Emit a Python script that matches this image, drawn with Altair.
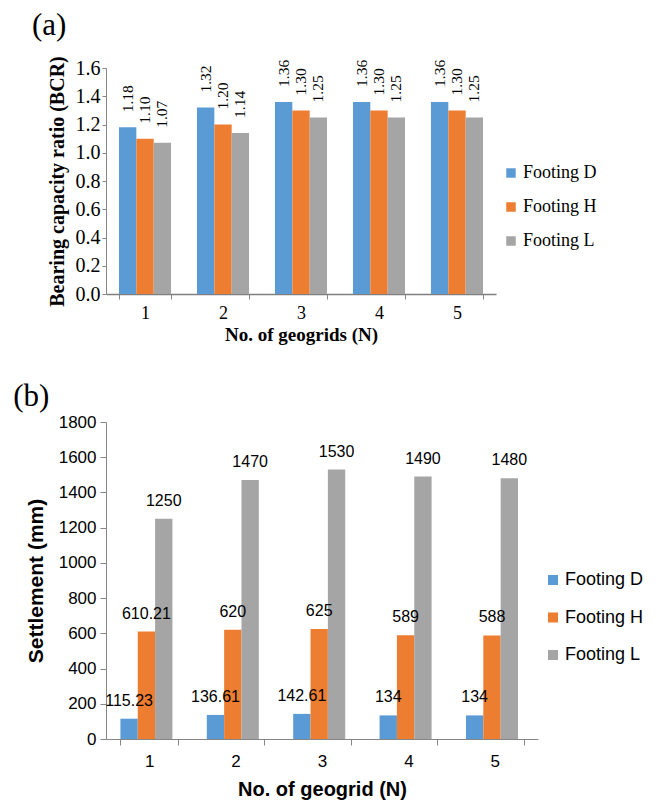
import altair as alt
import pandas as pd

grids = ["1", "2", "3", "4", "5"]
series = ["Footing D", "Footing H", "Footing L"]
colors = ["#5B9BD5", "#ED7D31", "#A5A5A5"]

bcr_d = [1.18, 1.32, 1.36, 1.36, 1.36]
bcr_h = [1.10, 1.20, 1.30, 1.30, 1.30]
bcr_l = [1.07, 1.14, 1.25, 1.25, 1.25]

set_d = [115.23, 136.61, 142.61, 134, 134]
set_h = [610.21, 620, 625, 589, 588]
set_l = [1250, 1470, 1530, 1490, 1480]

bcr_ticks = [0.0, 0.2, 0.4, 0.6, 0.8, 1.0, 1.2, 1.4, 1.6]
set_ticks = [0, 200, 400, 600, 800, 1000, 1200, 1400, 1600, 1800]

SERIF = "Liberation Serif"
SANS = "Liberation Sans"
AXC = "#868686"


def make_df(vals, fmt):
    rows = []
    for s, v in zip(series, vals):
        for g, x in zip(grids, v):
            rows.append({"N": g, "Footing": s, "value": x, "label": fmt(x)})
    return pd.DataFrame(rows)


df_a = make_df([bcr_d, bcr_h, bcr_l], lambda x: f"{x:.2f}")
df_b = make_df([set_d, set_h, set_l], lambda x: (f"{x:g}"))

# ---------------- panel (a) ----------------
base_a = alt.Chart(df_a).encode(
    x=alt.X(
        "N:N", sort=grids,
        scale=alt.Scale(paddingInner=0.333, paddingOuter=0.1667),
        axis=alt.Axis(
            title="No. of geogrids (N)", labelAngle=0, tickBand="extent",
            labelFont=SERIF, labelFontSize=18, labelColor="black",
            titleFont=SERIF, titleFontSize=19, titleFontWeight="bold", titleColor="black",
            domainColor="#7f7f7f", domainWidth=1.5, tickColor=AXC, tickSize=5,
            labelPadding=5, titlePadding=3,
        ),
    ),
    xOffset=alt.XOffset("Footing:N", sort=series, scale=alt.Scale(paddingInner=0, paddingOuter=0)),
    y=alt.Y(
        "value:Q", scale=alt.Scale(domain=[0, 1.6], nice=False),
        axis=alt.Axis(
            title="Bearing capacity ratio (BCR)", values=bcr_ticks, format=".1f", grid=False,
            labelFont=SERIF, labelFontSize=20, labelColor="black",
            titleFont=SERIF, titleFontSize=20, titleFontWeight="bold", titleColor="black",
            domainColor=AXC, tickColor=AXC, tickSize=4, labelPadding=2, titlePadding=8,
        ),
    ),
)

bars_a = base_a.mark_bar().encode(
    color=alt.Color(
        "Footing:N", sort=series, scale=alt.Scale(domain=series, range=colors),
        legend=alt.Legend(
            title=None, orient="none", legendX=396, legendY=96,
            labelFont=SERIF, labelFontSize=18, labelColor="black",
            symbolType="square", symbolSize=90, symbolStrokeWidth=0, rowPadding=16,
            labelOffset=3,
        ),
    )
)
text_a = base_a.mark_text(
    angle=270, align="left", baseline="middle", dx=15, font=SERIF, fontSize=15.5, color="black"
).encode(text="label:N")

chart_a = alt.layer(bars_a, text_a).properties(
    width=390, height=226,
    title=alt.TitleParams("(a)", anchor="start", frame="bounds", font=SERIF, fontSize=31,
                          fontWeight="normal", color="black", dx=-15, offset=14),
)

# ---------------- panel (b) ----------------
base_b = alt.Chart(df_b).encode(
    x=alt.X(
        "N:N", sort=grids,
        scale=alt.Scale(paddingInner=0.333, paddingOuter=0.1667),
        axis=alt.Axis(
            title="No. of geogrid (N)", labelAngle=0, tickBand="extent",
            labelFont=SANS, labelFontSize=17, labelColor="black",
            titleFont=SANS, titleFontSize=20, titleFontWeight="bold", titleColor="black",
            domainColor=AXC, tickColor=AXC, tickSize=6,
            labelPadding=8, titlePadding=10,
        ),
    ),
    xOffset=alt.XOffset("Footing:N", sort=series, scale=alt.Scale(paddingInner=0, paddingOuter=0)),
    y=alt.Y(
        "value:Q", scale=alt.Scale(domain=[0, 1800], nice=False),
        axis=alt.Axis(
            title="Settlement (mm)", values=set_ticks, format="d", grid=False,
            labelFont=SANS, labelFontSize=17, labelColor="black",
            titleFont=SANS, titleFontSize=21, titleFontWeight="bold", titleColor="black",
            domainColor=AXC, tickColor=AXC, tickSize=6, labelPadding=4, titlePadding=12,
        ),
    ),
)

bars_b = base_b.mark_bar().encode(
    color=alt.Color(
        "Footing:N", sort=series, scale=alt.Scale(domain=series, range=colors),
        legend=alt.Legend(
            title=None, orient="none", legendX=438, legendY=149,
            labelFont=SANS, labelFontSize=18, labelColor="black",
            symbolType="square", symbolSize=100, symbolStrokeWidth=0, rowPadding=19.5,
            labelOffset=3,
        ),
    )
)
text_b = base_b.mark_text(
    align="center", baseline="alphabetic", dy=-13, font=SANS, fontSize=16, color="black"
).encode(text="label:N")

chart_b = alt.layer(bars_b, text_b).properties(
    width=432, height=317,
    title=alt.TitleParams("(b)", anchor="start", frame="bounds", font=SERIF, fontSize=31,
                          fontWeight="normal", color="black", dx=-12, offset=0),
)

chart = (
    alt.vconcat(chart_a, chart_b, spacing=37)
    .resolve_scale(color="independent")
    .properties(padding={"left": 13, "top": 9, "right": 5, "bottom": 5})
    .configure_view(stroke=None)
)

chart.save("out.html", embed_options={"renderer": "svg", "actions": False})
